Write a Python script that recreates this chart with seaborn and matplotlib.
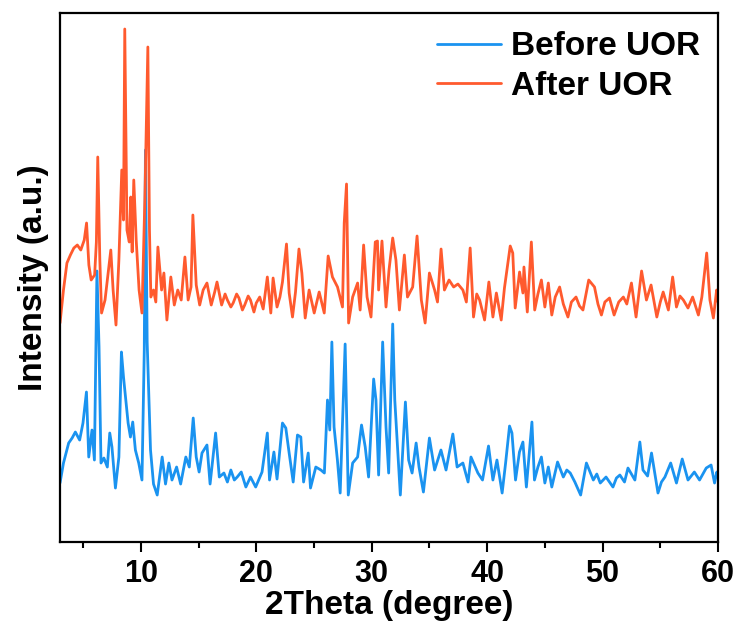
import matplotlib
matplotlib.use("Agg")
import matplotlib.pyplot as plt
import seaborn as sns
from matplotlib.ticker import MultipleLocator

# XRD patterns (intensity in arbitrary units)
tt_after = [3.0, 3.3, 3.6, 3.9, 4.2, 4.5, 4.8, 5.1, 5.3, 5.5, 5.7, 6.0, 6.15, 6.27, 6.45, 6.6, 6.9, 7.2, 7.4, 7.6,
            7.85, 8.1, 8.35, 8.5, 8.61, 8.8, 9.0, 9.13, 9.25, 9.39, 9.6, 9.85, 10.1, 10.35, 10.61, 10.75, 10.87,
            11.1, 11.3, 11.48, 11.8, 12.0, 12.26, 12.6, 12.9, 13.2, 13.5, 13.82, 14.1, 14.35, 14.51, 14.8, 15.1,
            15.4, 15.73, 16.1, 16.4, 16.6, 17.0, 17.3, 17.5, 17.8, 18.0, 18.3, 18.5, 18.8, 19.0, 19.3, 19.5, 19.8,
            20.0, 20.3, 20.6, 20.96, 21.26, 21.46, 21.8, 22.05, 22.27, 22.62, 22.85, 23.14, 23.4, 23.7, 23.95,
            24.24, 24.58, 25.02, 25.45, 25.89, 26.23, 26.6, 27.04, 27.47, 27.62, 27.82, 28.0, 28.35, 28.78, 29.0,
            29.3, 29.6, 29.94, 30.31, 30.5, 30.6, 30.89, 31.24, 31.5, 31.82, 32.1, 32.4, 32.83, 33.1, 33.55, 33.93,
            34.3, 34.63, 35.0, 35.45, 35.7, 36.01, 36.3, 36.7, 37.1, 37.47, 37.9, 38.2, 38.53, 38.82, 39.1, 39.35,
            39.78, 40.15, 40.5, 40.8, 41.22, 41.5, 42.0, 42.22, 42.43, 42.81, 43.1, 43.19, 43.48, 43.83, 44.12,
            44.4, 44.7, 45.0, 45.3, 45.6, 45.9, 46.28, 46.6, 47.0, 47.3, 47.7, 48.0, 48.3, 48.8, 49.3, 49.6, 49.9,
            50.2, 50.6, 51.0, 51.4, 51.8, 52.1, 52.5, 52.9, 53.38, 53.8, 54.2, 54.7, 55.0, 55.25, 55.7, 56.07,
            56.4, 56.7, 57.0, 57.4, 57.8, 58.3, 58.6, 59.02, 59.3, 59.6, 59.88, 60.0]
i_after = [219, 252, 279, 287, 294, 297, 292, 302, 319, 277, 262, 267, 300, 385, 282, 229, 242, 272, 292, 252,
           217, 282, 372, 322, 513, 312, 300, 345, 290, 362, 302, 252, 229, 342, 495, 312, 245,
           252, 240, 295, 252, 269, 222, 265, 237, 252, 242, 285, 242, 255, 327, 257, 237,
           252, 259, 237, 250, 260, 237, 248, 242, 235, 239, 248, 244, 232, 237, 246, 242, 230,
           239, 245, 233, 265, 229, 264, 235, 245, 260, 298, 249, 225, 250, 293, 269,
           224, 252, 229, 250, 229, 286, 265, 255, 235, 319, 358, 219, 245, 259, 232,
           297, 245, 225, 300, 301, 252, 301, 235, 272, 304, 282, 232, 287, 245, 255, 306,
           242, 219, 269, 252, 240, 293, 252, 262, 255, 258, 252, 240, 294, 225, 248, 242,
           222, 260, 225, 249, 222, 254, 296, 289, 234, 270, 249, 275, 230, 300, 232,
           248, 262, 235, 259, 227, 245, 255, 238, 225, 240, 245, 236, 232, 262, 255, 238, 227,
           240, 244, 227, 240, 245, 238, 259, 225, 271, 242, 257, 225, 240, 250, 232, 265,
           235, 246, 242, 234, 245, 227, 245, 289, 242, 224, 252, 240]

tt_before = [3.0, 3.3, 3.75, 4.05, 4.33, 4.7, 4.99, 5.29, 5.49, 5.77, 5.98, 6.2, 6.38, 6.55, 6.8, 7.1, 7.31, 7.5,
             7.8, 8.1, 8.32, 8.5, 8.7, 8.9, 9.1, 9.3, 9.53, 9.82, 10.1, 10.3, 10.4, 10.55, 10.84, 11.1, 11.42,
             11.85, 12.14, 12.43, 12.7, 13.1, 13.45, 13.9, 14.2, 14.54, 14.8, 15.05, 15.3, 15.73, 16.0, 16.48,
             16.8, 17.2, 17.5, 17.8, 18.1, 18.35, 18.7, 19.1, 19.5, 19.95, 20.5, 20.96, 21.15, 21.53, 21.8, 22.27,
             22.56, 22.85, 23.2, 23.57, 23.86, 24.1, 24.5, 24.7, 25.16, 25.6, 25.9, 26.17, 26.37, 26.55, 26.74,
             27.03, 27.27, 27.7, 27.97, 28.35, 28.78, 29.12, 29.44, 29.73, 30.17, 30.37, 30.6, 30.95, 31.24,
             31.47, 31.82, 32.0, 32.48, 32.92, 33.2, 33.5, 33.85, 34.1, 34.48, 35.0, 35.45, 36.0, 36.44, 37.03,
             37.4, 37.9, 38.35, 38.6, 39.2, 39.6, 40.12, 40.5, 40.85, 41.3, 41.6, 41.94, 42.15, 42.46, 42.8, 43.1,
             43.4, 43.88, 44.1, 44.4, 44.7, 45.0, 45.3, 45.6, 46.1, 46.6, 46.9, 47.2, 47.6, 48.1, 48.6, 49.2,
             49.5, 49.8, 50.3, 50.9, 51.2, 51.5, 51.9, 52.2, 52.8, 53.23, 53.5, 53.9, 54.24, 54.8, 55.1, 55.4,
             55.9, 56.4, 56.9, 57.4, 57.95, 58.4, 58.98, 59.4, 59.7, 59.9, 60.0]
i_before = [59, 79, 99, 104, 110, 102, 119, 150, 85, 112, 82, 271, 195, 79, 84, 75, 109, 95,
            54, 85, 190, 165, 142, 119, 105, 120, 92, 79, 62, 192, 392, 200, 92, 58, 47,
            85, 58, 79, 62, 75, 58, 85, 75, 124, 85, 70, 89, 97, 58, 109,
            65, 69, 60, 72, 62, 65, 70, 55, 65, 55, 70, 109, 62, 90, 63, 119,
            114, 89, 60, 107, 105, 60, 89, 54, 75, 72, 69, 142, 112, 200, 115,
            82, 49, 198, 47, 79, 85, 117, 95, 65, 163, 142, 67, 200, 115,
            69, 218, 142, 47, 140, 82, 69, 99, 75, 50, 104, 72, 92, 72, 108,
            75, 79, 60, 85, 69, 62, 96, 62, 82, 49, 79, 116, 109, 62, 90, 100,
            55, 120, 62, 75, 85, 59, 75, 55, 80, 65, 72, 69, 60, 47, 79, 62,
            68, 59, 65, 55, 64, 67, 60, 74, 62, 100, 72, 66, 89, 49, 60, 65,
            79, 59, 83, 62, 70, 62, 74, 77, 59, 70, 65]

labels = ["Before UOR", "After UOR"]
colors = ["#1A93F0", "#FF5A2E"]

sns.set_style("white")
plt.rcParams["font.family"] = ["Liberation Sans", "DejaVu Sans"]
plt.rcParams["font.weight"] = "bold"
plt.rcParams["text.color"] = "black"
plt.rcParams["axes.labelcolor"] = "black"
plt.rcParams["xtick.color"] = "black"

fig = plt.figure(figsize=(7.39, 6.28), dpi=100)
ax = fig.add_axes([0.0812, 0.1369, 0.8904, 0.8424])

sns.lineplot(x=tt_before, y=i_before, ax=ax, color=colors[0], lw=2, label=labels[0], estimator=None, sort=False)
sns.lineplot(x=tt_after, y=i_after, ax=ax, color=colors[1], lw=2, label=labels[1], estimator=None, sort=False)

ax.set_xlim(3, 60)
ax.set_ylim(0, 529)
ax.set_yticks([])
ax.xaxis.set_major_locator(MultipleLocator(10))
ax.xaxis.set_minor_locator(MultipleLocator(5))
ax.tick_params(axis="x", which="major", direction="out", length=7, width=1.5, bottom=True, pad=5,
               labelsize=22, labelcolor="black")
ax.tick_params(axis="x", which="minor", direction="out", length=4, width=1.5, bottom=True)
for s in ax.spines.values():
    s.set_linewidth(1.6)
    s.set_color("black")

for t in ax.get_xticklabels():
    t.set_fontweight("bold")

ax.set_xlabel("2Theta (degree)", fontsize=24, fontweight="bold", labelpad=1, color="black")
ax.set_ylabel("Intensity (a.u.)", fontsize=24, fontweight="bold", labelpad=8, color="black")

leg = ax.legend(loc="upper right", frameon=False, fontsize=24, handlelength=1.9, handletextpad=0.3,
                labelspacing=0.25, borderaxespad=0.15)
for h in leg.get_lines():
    h.set_linewidth(2)
for t in leg.get_texts():
    t.set_fontweight("bold")
    t.set_color("black")

fig.savefig("out.png", dpi=100)
